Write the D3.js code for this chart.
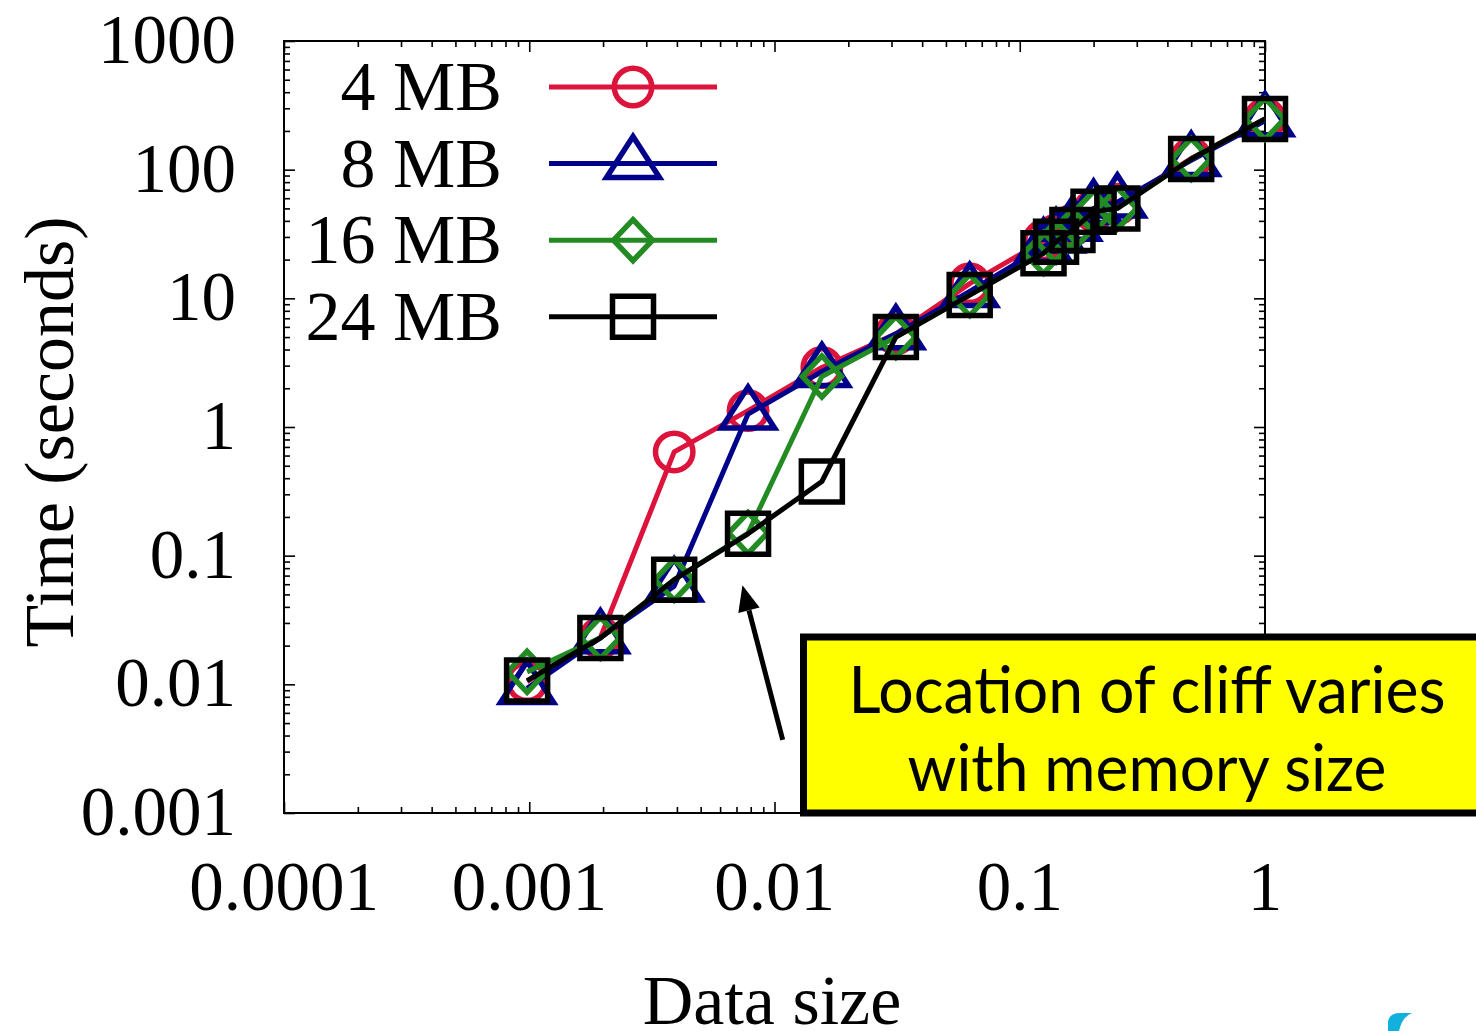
<!DOCTYPE html>
<html>
<head>
<meta charset="utf-8">
<script src="https://d3js.org/d3.v7.min.js"></script>
<style>
  body { margin: 0; background: #ffffff; }
  svg { display: block; }
</style>
</head>
<body>
<div id="chart_container"></div>
<script>

// data sizes (x) and times in seconds (y)
var data_sizes = [0.00098, 0.00195, 0.0039, 0.0078, 0.0156, 0.03125, 0.0625, 0.125, 0.1406, 0.164, 0.2, 0.25, 0.5, 1]

var time_4mb  = [0.0105, 0.023, 0.64, 1.34, 2.9, 5.3, 13, 28, 31, 37, 48, 54, 122, 248]
var time_8mb  = [0.0093, 0.023, 0.058, 1.26, 2.7, 5.3, 11.3, 25, 30, 37, 50, 56, 118, 240]
var time_16mb = [0.0125, 0.023, 0.065, 0.15, 2.47, 5.0, 10.6, 22.5, 27.5, 34, 47, 50, 121, 248]
var time_24mb = [0.0107, 0.0229, 0.065, 0.148, 0.377, 5.0, 10.6, 22.4, 27.5, 34, 47, 50, 121, 248]

var series_names = ['4 MB', '8 MB', '16 MB', '24 MB']
var series_colors = ['#dc143c', '#00008b', '#228b22', '#000000']
var series_symbols = ['circle', 'triangle', 'diamond', 'square']

var x_tick_values = [0.0001, 0.001, 0.01, 0.1, 1]
var x_tick_labels = ['0.0001', '0.001', '0.01', '0.1', '1']
var y_tick_values = [0.001, 0.01, 0.1, 1, 10, 100, 1000]
var y_tick_labels = ['0.001', '0.01', '0.1', '1', '10', '100', '1000']

var note_lines = ['Location of cliff varies', 'with memory size']

var all_series = [time_4mb, time_8mb, time_16mb, time_24mb]

var width = 1476, height = 1031
var plot = {left: 284, right: 1265, top: 41, bottom: 813}
var mark_width = 5.5

var svg = d3.select("#chart_container")
            .append("svg")
            .attr("width", width)
            .attr("height", height)

var x = d3.scaleLog().domain([0.0001, 1]).range([plot.left, plot.right])
var y = d3.scaleLog().domain([0.001, 1000]).range([plot.bottom, plot.top])

// minor ticks 2..9 of every decade
function minor_ticks(lo, hi){
    var out = []
    for(var p = Math.log10(lo); p < Math.log10(hi); p++){
        for(var m = 2; m < 10; m++){
            out.push(m * Math.pow(10, p))
        }
    }
    return out
}

var serif = "'Liberation Serif', 'Times New Roman', serif"

// ---- axes, gnuplot style: inward ticks mirrored on all 4 sides
function tick_axis(axis, transform){
    var g = svg.append("g").attr("transform", transform).call(axis)
    g.select(".domain").remove()
    g.selectAll("line").attr("stroke", "#000").attr("stroke-width", 1.6)
    g.selectAll("text").remove()
    return g
}

tick_axis(d3.axisBottom(x).tickValues(x_tick_values).tickSize(-11), "translate(0," + plot.bottom + ")")
tick_axis(d3.axisBottom(x).tickValues(minor_ticks(0.0001, 1)).tickSize(-6), "translate(0," + plot.bottom + ")")
tick_axis(d3.axisTop(x).tickValues(x_tick_values).tickSize(-11), "translate(0," + plot.top + ")")
tick_axis(d3.axisTop(x).tickValues(minor_ticks(0.0001, 1)).tickSize(-6), "translate(0," + plot.top + ")")
tick_axis(d3.axisLeft(y).tickValues(y_tick_values).tickSize(-11), "translate(" + plot.left + ",0)")
tick_axis(d3.axisLeft(y).tickValues(minor_ticks(0.001, 1000)).tickSize(-6), "translate(" + plot.left + ",0)")
tick_axis(d3.axisRight(y).tickValues(y_tick_values).tickSize(-11), "translate(" + plot.right + ",0)")
tick_axis(d3.axisRight(y).tickValues(minor_ticks(0.001, 1000)).tickSize(-6), "translate(" + plot.right + ",0)")

// frame
svg.append("rect")
    .attr("x", plot.left)
    .attr("y", plot.top)
    .attr("width", plot.right - plot.left)
    .attr("height", plot.bottom - plot.top)
    .attr("fill", "none")
    .attr("stroke", "#000")
    .attr("stroke-width", 2)

// tick labels
svg.append("g").selectAll("text")
    .data(x_tick_values)
    .enter()
    .append("text")
    .attr("x", function(d){ return x(d) })
    .attr("y", 910)
    .attr("text-anchor", "middle")
    .style("font-family", serif)
    .style("font-size", "69px")
    .text(function(d, i){ return x_tick_labels[i] })

svg.append("g").selectAll("text")
    .data(y_tick_values)
    .enter()
    .append("text")
    .attr("x", 236)
    .attr("y", function(d){ return y(d) + 22 })
    .attr("text-anchor", "end")
    .style("font-family", serif)
    .style("font-size", "69px")
    .text(function(d, i){ return y_tick_labels[i] })

// axis titles
svg.append("text")
    .attr("x", 772)
    .attr("y", 1024)
    .attr("text-anchor", "middle")
    .style("font-family", serif)
    .style("font-size", "70px")
    .text("Data size")

svg.append("text")
    .attr("transform", "translate(73,432) rotate(-90)")
    .attr("text-anchor", "middle")
    .style("font-family", serif)
    .style("font-size", "70px")
    .text("Time (seconds)")

// marker shapes
function symbol_path(kind){
    if(kind == 'circle')   return "M-18.7,0 A18.7,18.7 0 1,0 18.7,0 A18.7,18.7 0 1,0 -18.7,0 Z"
    if(kind == 'triangle') return "M0,-27 L26.5,14 L-26.5,14 Z"
    if(kind == 'diamond')  return "M0,-20.5 L19.5,0 L0,20.5 L-19.5,0 Z"
    return "M-20.5,-20.5 L20.5,-20.5 L20.5,20.5 L-20.5,20.5 Z"
}

var line = d3.line()
    .x(function(d){ return x(d[0]) })
    .y(function(d){ return y(d[1]) })

// series: line then points, in legend order (black on top)
for(var s = 0; s < all_series.length; s++){

    var pts = data_sizes.map(function(d, i){ return [d, all_series[s][i]] })

    var g = svg.append("g")

    g.append("path")
        .datum(pts)
        .attr("fill", "none")
        .attr("stroke", series_colors[s])
        .attr("stroke-width", 5)
        .attr("stroke-linejoin", "round")
        .attr("d", line)

    g.selectAll(".pt")
        .data(pts)
        .enter()
        .append("path")
        .attr("class", "pt")
        .attr("transform", function(d){ return "translate(" + x(d[0]) + "," + y(d[1]) + ")" })
        .attr("d", symbol_path(series_symbols[s]))
        .attr("fill", "none")
        .attr("stroke", series_colors[s])
        .attr("stroke-width", mark_width)
}

// legend
var legend = svg.append("g")
series_names.forEach(function(name, i){
    var ly = 87 + i * 76.6
    legend.append("text")
        .attr("x", 502)
        .attr("y", ly + 23)
        .attr("text-anchor", "end")
        .style("font-family", serif)
        .style("font-size", "70px")
        .text(name)
    legend.append("line")
        .attr("x1", 549).attr("x2", 717)
        .attr("y1", ly).attr("y2", ly)
        .attr("stroke", series_colors[i])
        .attr("stroke-width", 5)
    legend.append("path")
        .attr("transform", "translate(633," + ly + ")")
        .attr("d", symbol_path(series_symbols[i]))
        .attr("fill", "none")
        .attr("stroke", series_colors[i])
        .attr("stroke-width", mark_width)
})

// arrow pointing at the cliff
var arrow_from = [0.0108, 0.0037], arrow_to = [0.0074, 0.059]
var ax1 = x(arrow_from[0]), ay1 = y(arrow_from[1]), ax2 = x(arrow_to[0]), ay2 = y(arrow_to[1])
var ang = Math.atan2(ay2 - ay1, ax2 - ax1)
var head_len = 26, head_w = 11
var bx = ax2 - head_len * Math.cos(ang), by = ay2 - head_len * Math.sin(ang)

svg.append("line")
    .attr("x1", ax1).attr("y1", ay1)
    .attr("x2", bx).attr("y2", by)
    .attr("stroke", "#000")
    .attr("stroke-width", 5)

svg.append("path")
    .attr("d", "M" + ax2 + "," + ay2 +
               " L" + (bx + head_w * Math.sin(ang)) + "," + (by - head_w * Math.cos(ang)) +
               " L" + (bx - head_w * Math.sin(ang)) + "," + (by + head_w * Math.cos(ang)) + " Z")
    .attr("fill", "#000")

// yellow callout box
svg.append("rect")
    .attr("x", 803.5)
    .attr("y", 637)
    .attr("width", 700)
    .attr("height", 176)
    .attr("fill", "#ffff00")
    .attr("stroke", "#000")
    .attr("stroke-width", 7)

svg.append("g").selectAll("text")
    .data(note_lines)
    .enter()
    .append("text")
    .attr("x", 1147)
    .attr("y", function(d, i){ return 713 + i * 78 })
    .attr("text-anchor", "middle")
    .attr("textLength", function(d, i){ return i == 0 ? 597 : 479 })
    .attr("lengthAdjust", "spacingAndGlyphs")
    .style("font-family", "Lato, 'Noto Sans', sans-serif")
    .style("font-size", "66px")
    .text(function(d){ return d })

// corner of a logo peeking in at the bottom right
svg.append("path")
    .attr("d", "M1388,1031 L1388,1021 Q1390,1013 1400,1013 L1412,1013 Q1402,1017 1399,1031 Z")
    .attr("fill", "#12b0dd")

</script>
</body>
</html>
